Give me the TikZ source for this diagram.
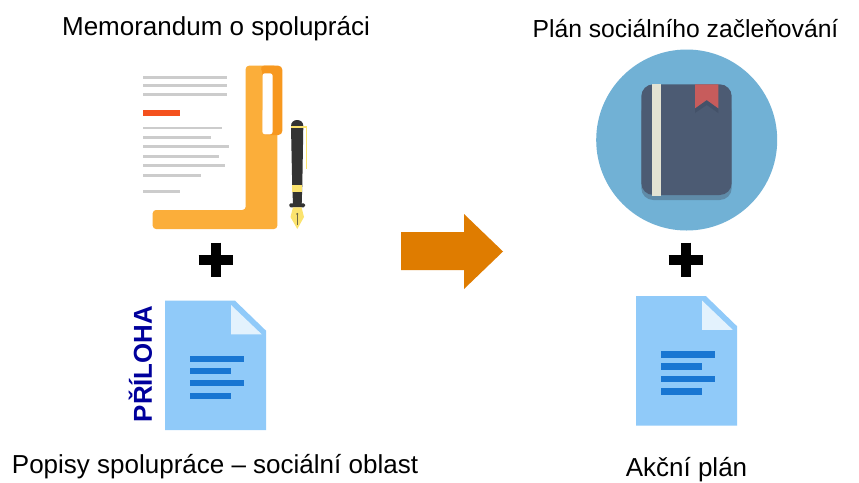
\documentclass[tikz,border=0pt]{standalone}
\usepackage{fontspec}
\setmainfont{Liberation Sans}
\definecolor{folder}{HTML}{FBAE3A}
\definecolor{tabdark}{HTML}{F7981F}
\definecolor{greyline}{HTML}{CCCCCC}
\definecolor{redline}{HTML}{F4511E}
\definecolor{penblack}{HTML}{333333}
\definecolor{pengold}{HTML}{FBE36E}
\definecolor{docblue}{HTML}{90CAF9}
\definecolor{docfold}{HTML}{E3F2FD}
\definecolor{docline}{HTML}{1976D2}
\definecolor{circ}{HTML}{71B1D5}
\definecolor{bookc}{HTML}{4C5B73}
\definecolor{bookshadow}{HTML}{5F8BA8}
\definecolor{stripc}{HTML}{E3E3D3}
\definecolor{markc}{HTML}{C75C5C}
\definecolor{markshadow}{HTML}{445269}
\definecolor{arrowc}{HTML}{DF7C00}
\definecolor{priloha}{HTML}{00009C}
\tikzset{
  lbl/.style={font=\fontsize{19.5}{23}\selectfont,text=black,inner sep=0pt},
  lblb/.style={font=\fontsize{18.5}{22}\selectfont,text=black,inner sep=0pt},
  gline/.style={draw=greyline,line width=1.9pt},
  dline/.style={draw=docline,line width=4.6pt},
  plusarm/.style={draw=black,line width=6.8pt},
}
\newcommand{\docicon}[2]{%
  \begin{scope}[shift={(#1,#2)}]
    \fill[docblue] (165,300.7) -- (235,300.7) -- (266,330.7) -- (266,430) -- (165,430) -- cycle;
    \fill[docfold] (231,305) -- (261.7,334.3) -- (231,334.3) -- cycle;
    \draw[dline] (190.3,359) -- (244,359);
    \draw[dline] (190.3,371) -- (231.3,371);
    \draw[dline] (190.3,383.3) -- (244,383.3);
    \draw[dline] (190.3,396) -- (231.3,396);
  \end{scope}}
\begin{document}
\begin{tikzpicture}[x=0.75pt,y=-0.75pt]
\useasboundingbox (0,0) rectangle (859,482);
\fill[white] (0,0) rectangle (859,482);
% texts
\node[lbl] (memo) at (216,29) {Memorandum o spolupráci};
\node[lblb] (plan) at (685.5,28.5) {Plán sociálního začleňování};
\node[lbl] (popisy) at (215,467) {Popisy spolupráce – sociální oblast};
\node[lbl] (akcni) at (686.5,470) {Akční plán};
\node[font=\bfseries\fontsize{19.4}{22}\selectfont,text=priloha,rotate=90,inner sep=0pt] (pril) at (140.5,364) {PŘÍLOHA};
% text lines of memorandum
\foreach \ya/\xb in {77.3/227.3,85.7/227.3,94.3/227.3,128/221.7,137.3/211.3,146.7/229,156.3/219,165.7/224.7,175.3/201.3,191.7/180}
  \draw[gline] (143.3,\ya) -- (\xb,\ya);
\fill[redline] (143.3,110) rectangle (180.3,116.3);
% folder
\fill[folder,rounded corners=2.5pt] (245.7,65.7) -- (277.3,65.7) -- (277.3,229) -- (152.7,229) -- (152.7,210) -- (245.7,210) -- cycle;
\fill[tabdark,rounded corners=3pt] (260,65.7) -- (282.3,65.7) -- (282.3,135) -- (262.3,135) -- (262.3,73.3) -- cycle;
\fill[white,rounded corners=2pt] (262.3,73.3) -- (272.7,73.3) -- (272.7,134.3) -- (262.3,134.3) -- cycle;
\fill[folder] (260,65.7) -- (262.3,73.3) -- (262.3,110) -- (258,110) -- cycle;
% pen
\draw[pengold,line width=0.9pt] (303,127) -- (306.3,127) -- (306.3,168.5);
\fill[penblack] (291,127) -- (291,126) .. controls (291,122) and (294,120) .. (297.2,120) .. controls (300.4,120) and (303.3,122) .. (303.3,126) -- (303.3,127) -- (302.3,185) -- (301.7,204) -- (293,204) -- (292.2,185) -- cycle;
\fill[pengold] (290.5,126) rectangle (303.8,128.3);
\fill[pengold] (292,185) rectangle (302.3,192);
\fill[penblack,rounded corners=1pt] (289.3,203.3) rectangle (305,207.3);
\fill[pengold] (293,207.3) -- (301.5,207.3) -- (304,217) -- (297.3,229) -- (290.5,217) -- cycle;
\fill[penblack!70!pengold] (296.9,213) rectangle (297.7,225);
\fill[penblack!70!pengold] (297.3,214) circle[radius=1.1];
% plus signs
\coordinate (pl1) at (216,260);
\draw[plusarm] ([xshift=-13pt]pl1) -- ([xshift=13pt]pl1);
\draw[plusarm] ([yshift=13pt]pl1) -- ([yshift=-13pt]pl1);
\coordinate (pl2) at (686,260);
\draw[plusarm] ([xshift=-13pt]pl2) -- ([xshift=13pt]pl2);
\draw[plusarm] ([yshift=13pt]pl2) -- ([yshift=-13pt]pl2);
% documents
\docicon{0}{0}
\docicon{471}{-4.5}
% arrow
\fill[arrowc] (401,232) -- (464,232) -- (464,214) -- (503,251.5) -- (464,289) -- (464,270) -- (401,270) -- cycle;
% book
\fill[circ] (686.7,140) circle[radius=90.5];
\fill[bookshadow,rounded corners=9pt] (641.3,100) rectangle (731.7,200);
\fill[bookc,rounded corners=9pt] (641.3,84.3) rectangle (731.7,195);
\fill[stripc] (652.3,84.3) rectangle (661.3,195.5);
\fill[markshadow] (695,108.3) -- (706.7,100) -- (718.3,108.3) -- (718.3,113) -- (706.7,105) -- (695,113) -- cycle;
\fill[markc] (695,84.3) -- (718.3,84.3) -- (718.3,108.3) -- (706.7,100) -- (695,108.3) -- cycle;
\end{tikzpicture}
\end{document}
